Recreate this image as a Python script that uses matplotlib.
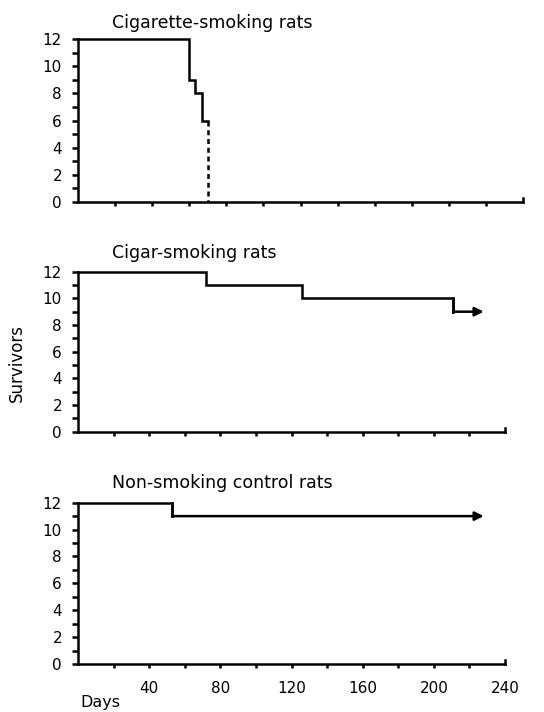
import matplotlib
matplotlib.use("Agg")
import matplotlib.pyplot as plt

# Survival data (days, survivors after each death)
CIG_DAYS = [0, 60, 63, 67]
CIG_SURV = [12, 9, 8, 6]
CIG_ALL_DEAD = 70  # remaining rats died at this point (dashed drop)

CIGAR_DAYS = [0, 72, 126, 211]
CIGAR_SURV = [12, 11, 10, 9]
CIGAR_END = 228

CTRL_DAYS = [0, 53]
CTRL_SURV = [12, 11]
CTRL_END = 228

TITLES = ["Cigarette-smoking rats", "Cigar-smoking rats", "Non-smoking control rats"]
X_TICKS = list(range(20, 241, 20))
X_LABELS = ["", "40", "", "80", "", "120", "", "160", "", "200", "", "240"]
Y_TICKS = list(range(0, 13, 2))
Y_LABELS = ["0", "2", "4", "6", "8", "10", "12"]

plt.rcParams["font.family"] = ["DejaVu Sans"]
LW = 1.8
W, H = 544, 712

fig = plt.figure(figsize=(W / 100, H / 100), dpi=100)

# panel boxes in figure fraction: left, bottom, width, height
boxes = [
    [0.1434, 0.7163, 0.818, 0.2289],
    [0.1434, 0.3937, 0.785, 0.2247],
    [0.1434, 0.0674, 0.785, 0.2266],
]
# title baselines, pixels from the top
title_base = [28, 258, 488]
axes = [fig.add_axes(b) for b in boxes]


def style_axis(ax, title, base, show_xlabels):
    ax.set_xlim(0, 240)
    ax.set_ylim(0, 12)
    for side in ["top", "right"]:
        ax.spines[side].set_visible(False)
    for side in ["left", "bottom"]:
        ax.spines[side].set_linewidth(LW)
    ax.set_yticks(Y_TICKS)
    ax.set_yticklabels(Y_LABELS)
    ax.set_yticks(range(1, 12, 2), minor=True)
    ax.tick_params(axis="y", which="both", direction="out", length=4.5,
                   width=LW, pad=7, labelsize=11)
    ax.set_xticks(X_TICKS)
    if show_xlabels:
        ax.set_xticklabels(X_LABELS)
    else:
        ax.set_xticklabels([])
    ax.tick_params(axis="x", direction="out", length=3, width=LW,
                   pad=9, labelsize=11)
    # the axis end at 240 curls upward instead of a tick mark
    ax.get_xaxis().get_major_ticks()[-1].tick1line.set_visible(False)
    ax.plot([240, 240], [0, 0.3], color="black", lw=LW, clip_on=False)
    fig.text(112 / W, 1 - base / H, title, fontsize=12.5,
             ha="left", va="baseline")


def draw_steps(ax, days, surv, end, arrow):
    xs = days + [end]
    ys = surv + [surv[-1]]
    if arrow:
        ax.step(xs[:-1], ys[:-1], where="post", color="black", lw=LW,
                clip_on=False, solid_joinstyle="miter")
        ax.plot([days[-1], days[-1]], [surv[-2], surv[-1]], color="black",
                lw=LW, clip_on=False)
        ax.annotate("", xy=(end, surv[-1]), xytext=(days[-1], surv[-1]),
                    arrowprops=dict(arrowstyle="-|>", color="black", lw=LW,
                                    mutation_scale=13, shrinkA=0, shrinkB=0))
    else:
        ax.step(xs, ys, where="post", color="black", lw=LW, clip_on=False,
                solid_joinstyle="miter")


# Cigarette-smoking rats
ax = axes[0]
style_axis(ax, TITLES[0], title_base[0], False)
draw_steps(ax, CIG_DAYS, CIG_SURV, CIG_ALL_DEAD, False)
ax.plot([CIG_ALL_DEAD, CIG_ALL_DEAD], [CIG_SURV[-1], 0], color="black",
        lw=LW, linestyle=(0, (2.0, 1.5)))

# Cigar-smoking rats
ax = axes[1]
style_axis(ax, TITLES[1], title_base[1], False)
draw_steps(ax, CIGAR_DAYS, CIGAR_SURV, CIGAR_END, True)
fig.text(17 / W, 1 - 363 / H, "Survivors", fontsize=12, rotation=90,
         ha="center", va="center")

# Non-smoking control rats
ax = axes[2]
style_axis(ax, TITLES[2], title_base[2], True)
draw_steps(ax, CTRL_DAYS, CTRL_SURV, CTRL_END, True)
fig.text(80 / W, 1 - 703 / H, "Days", fontsize=11.5, ha="left", va="center")

fig.savefig("out.png", dpi=100)
